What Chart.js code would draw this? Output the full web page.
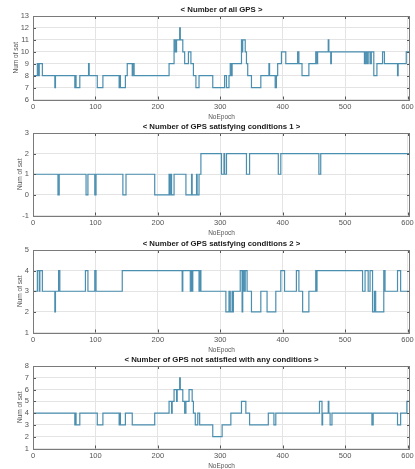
<!DOCTYPE html>
<html>
<head>
<meta charset="utf-8">
<script src="https://cdn.jsdelivr.net/npm/chart.js@4"></script>
<style>
  html, body { margin: 0; padding: 0; background: #fff; overflow: hidden; }
  body { width: 415px; height: 469px; position: relative; }
  canvas { position: absolute; left: 0; }
</style>
</head>
<body>
<canvas id="c1" width="420" height="118" style="top:3px"></canvas>
<canvas id="c2" width="420" height="117" style="top:120px"></canvas>
<canvas id="c3" width="420" height="117" style="top:237px"></canvas>
<canvas id="c4" width="420" height="117" style="top:353px"></canvas>
<script>
// epoch where the count changes, and the new count from that epoch on
const allEpoch = [0, 7, 9, 10, 15, 35, 36, 67, 68, 69, 75, 89, 90, 103, 112, 138, 139, 140, 148, 151, 159, 160, 162,
  218, 226, 228, 230, 235, 236, 240, 243, 249, 253, 257, 261, 266, 288, 307, 310, 314, 316, 318, 319,
  334, 335, 336, 340, 342, 344, 350, 365, 378, 379, 388, 390, 392, 398, 405, 424, 426, 431, 442,
  453, 455, 456, 473, 474, 477, 478, 531, 533, 535, 537, 540, 542, 546, 551, 560, 563, 584, 585, 598, 604];
const allSat = [8, 9, 8, 9, 8, 7, 8, 7, 8, 7, 8, 9, 8, 7, 8, 7, 8, 7, 8, 9, 8, 9, 8,
  9, 11, 10, 11, 12, 11, 10, 9, 10, 9, 8, 7, 8, 7, 8, 7, 8, 9, 8, 9,
  11, 10, 11, 10, 9, 8, 7, 8, 9, 8, 7, 8, 9, 10, 9, 10, 9, 8, 9,
  10, 9, 10, 11, 10, 9, 10, 9, 10, 9, 10, 9, 10, 8, 9, 10, 9, 8, 9, 10, 10];

const cond1Epoch = [0, 40, 42, 85, 88, 99, 101, 144, 149, 195, 218, 219, 220, 222, 226, 245, 254, 255, 262, 263, 266,
  269, 302, 306, 307, 310, 342, 347, 393, 397, 458, 461, 604];
const cond1Sat = [1, 0, 1, 0, 1, 0, 1, 0, 1, 0, 1, 0, 1, 0, 1, 0, 1, 0, 1, 0, 1,
  2, 1, 2, 1, 2, 1, 2, 1, 2, 1, 2, 2];

const cond2Epoch = [0, 7, 10, 11, 15, 35, 36, 41, 43, 84, 88, 99, 101, 143, 239, 240, 252, 254, 255, 256, 266, 268, 269,
  309, 314, 316, 319, 320, 321, 332, 335, 336, 338, 340, 343, 350, 365, 375, 389, 397, 403, 422, 426,
  432, 442, 453, 454, 455, 528, 532, 537, 540, 544, 547, 549, 562, 564, 584, 589, 604];
const cond2Sat = [3, 4, 3, 4, 3, 2, 3, 4, 3, 4, 3, 4, 3, 4, 3, 4, 3, 4, 3, 4, 3, 4, 3,
  2, 3, 2, 3, 2, 3, 4, 2, 4, 3, 4, 3, 2, 3, 2, 3, 4, 3, 4, 3,
  2, 3, 4, 3, 4, 3, 4, 3, 4, 2, 3, 2, 4, 3, 4, 3, 3];

const noneEpoch = [0, 67, 68, 69, 75, 103, 112, 138, 139, 140, 148, 159, 195, 218, 222, 223, 226, 230, 231,
  235, 236, 240, 243, 245, 250, 255, 257, 260, 264, 267, 288, 303, 317, 334, 341, 347, 377, 386, 389,
  459, 463, 464, 473, 474, 476, 479, 543, 545, 584, 589, 599, 604];
const noneSat = [4, 3, 4, 3, 4, 3, 4, 3, 4, 3, 4, 3, 4, 5, 4, 5, 6, 5, 6,
  7, 6, 5, 4, 5, 6, 5, 4, 3, 4, 3, 2, 3, 4, 5, 4, 3, 4, 3, 4,
  5, 3, 4, 5, 4, 3, 4, 3, 4, 3, 4, 5, 5];

const epochTicks = [0, 100, 200, 300, 400, 500, 600];
const satTicks = [
  [6, 7, 8, 9, 10, 11, 12, 13],
  [-1, 0, 1, 2, 3],
  [1, 2, 3, 4, 5],
  [1, 2, 3, 4, 5, 6, 7, 8]
];
const titles = [
  '< Number of all GPS >',
  '< Number of GPS satisfying conditions 1 >',
  '< Number of GPS satisfying conditions 2 >',
  '< Number of GPS not satisfied with any conditions >'
];

const FONT = '"Liberation Sans", Arial, sans-serif';

// matlab style box with inward ticks
const boxPlugin = {
  id: 'box',
  afterDraw(chart) {
    const ctx = chart.ctx;
    const a = chart.chartArea;
    const xs = chart.scales.x, ys = chart.scales.y;
    ctx.save();
    ctx.strokeStyle = '#555';
    ctx.lineWidth = 1;
    ctx.beginPath();
    xs.ticks.forEach(t => {
      const px = Math.round(xs.getPixelForValue(t.value)) + 0.5;
      ctx.moveTo(px, a.bottom); ctx.lineTo(px, a.bottom - 3);
      ctx.moveTo(px, a.top); ctx.lineTo(px, a.top + 3);
    });
    ys.ticks.forEach(t => {
      const py = Math.round(ys.getPixelForValue(t.value)) + 0.5;
      ctx.moveTo(a.left, py); ctx.lineTo(a.left + 3, py);
      ctx.moveTo(a.right, py); ctx.lineTo(a.right - 3, py);
    });
    ctx.stroke();
    ctx.strokeStyle = '#7a7a7a';
    ctx.strokeRect(Math.round(a.left) + 0.5, Math.round(a.top) + 0.5,
      Math.round(a.right - a.left) - 1, Math.round(a.bottom - a.top));
    ctx.restore();
  }
};

function makeChart(id, epochs, sats, idx) {
  const pts = epochs.map((e, i) => ({ x: e, y: sats[i] }));
  const yt = satTicks[idx];
  return new Chart(document.getElementById(id), {
    type: 'line',
    data: {
      datasets: [{
        data: pts,
        stepped: true,
        borderColor: '#4a8eb0',
        borderWidth: 1.2,
        pointRadius: 0,
        fill: false
      }]
    },
    options: {
      responsive: false,
      animation: false,
      layout: { padding: { left: 0, right: 10, top: 0, bottom: 0 } },
      plugins: {
        legend: { display: false },
        tooltip: { enabled: false },
        title: {
          display: true,
          fullSize: false,
          text: titles[idx],
          color: '#1a1a1a',
          font: { family: FONT, size: 7.8, weight: 'bold', lineHeight: 9 / 7.8 },
          padding: { top: 2, bottom: 2 }
        }
      },
      scales: {
        x: {
          type: 'linear',
          min: 0,
          max: 604,
          afterFit(s) { s.height = 21.5; },
          afterBuildTicks(s) { s.ticks = epochTicks.map(v => ({ value: v })); },
          ticks: { autoSkip: false, padding: 3, color: '#555', font: { family: FONT, size: 7.5 } },
          grid: { color: '#e4e4e4', drawTicks: false },
          border: { display: false },
          title: { display: true, text: 'NoEpoch', color: '#555', font: { family: FONT, size: 6.5 }, padding: { top: 0, bottom: 0 } }
        },
        y: {
          min: yt[0],
          max: yt[yt.length - 1],
          afterFit(s) { s.width = 33; },
          afterBuildTicks(s) { s.ticks = yt.map(v => ({ value: v })); },
          ticks: { autoSkip: false, padding: 4, color: '#555', font: { family: FONT, size: 7.5 } },
          grid: { color: '#e4e4e4', drawTicks: false },
          border: { display: false },
          title: { display: true, text: 'Num of sat', color: '#555', font: { family: FONT, size: 6.5 },
            padding: { top: idx === 0 ? 12 : 16, bottom: 0 } }
        }
      }
    },
    plugins: [boxPlugin]
  });
}

makeChart('c1', allEpoch, allSat, 0);
makeChart('c2', cond1Epoch, cond1Sat, 1);
makeChart('c3', cond2Epoch, cond2Sat, 2);
makeChart('c4', noneEpoch, noneSat, 3);
</script>
</body>
</html>
